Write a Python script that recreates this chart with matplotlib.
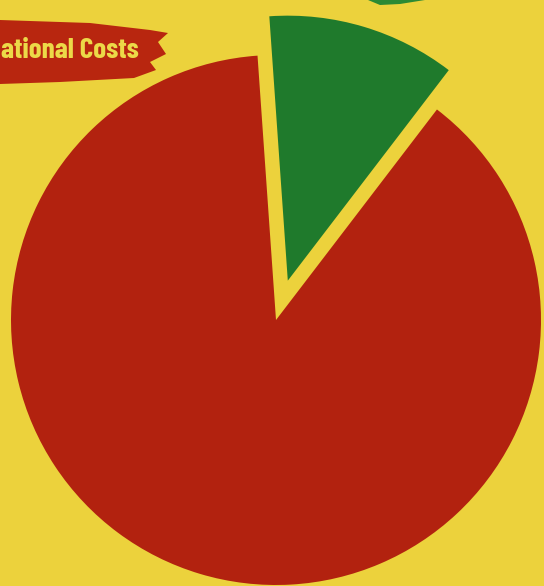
import matplotlib.pyplot as plt
from matplotlib.patches import Polygon

# slice shares (green exploded, red remainder)
labels = ['Other', 'Operational Costs']
shares = [11.5, 88.5]
colors = ['#1f7a2c', '#b2220f']
explode = [0.155, 0]

title_text = 'ational Costs'

bg = '#ecd23c'
W, H = 544, 586

fig = plt.figure(figsize=(W / 100, H / 100), dpi=100, facecolor=bg)
ax = fig.add_axes([0, 0, 1, 1])
ax.set_facecolor(bg)

ax.pie(shares, colors=colors, explode=explode, startangle=94,
       counterclock=False, radius=1.0, wedgeprops=dict(linewidth=0))

# pie centre at about (276, 320) px from top-left, radius ~265 px
r_px = 265.0
cx, cy = 276.0, 320.0
ax.set_aspect('auto')
ax.set_xlim(-cx / r_px, (W - cx) / r_px)
ax.set_ylim(-(H - cy) / r_px, cy / r_px)
ax.axis('off')


def px(pts):
    return [(x / W, 1 - y / H) for x, y in pts]


# red brush banner behind the title
banner = [(0, 20), (90, 23), (150, 30), (168, 33), (158, 42), (166, 54),
          (150, 62), (156, 70), (134, 78), (60, 82), (0, 84)]
fig.patches.append(Polygon(px(banner), closed=True, transform=fig.transFigure,
                           facecolor='#b8260f', edgecolor='none'))

# green brush stroke at the top edge
stroke = [(368, 0), (425, 0), (400, 4), (380, 5)]
fig.patches.append(Polygon(px(stroke), closed=True, transform=fig.transFigure,
                           facecolor='#2c8a34', edgecolor='none'))

fig.text(1 / W, 1 - 51 / H, title_text, ha='left', va='center',
         fontsize=21, fontweight='bold', color='#ecd948',
         family=['Barlow Condensed', 'DejaVu Sans'])

fig.savefig('out.png', dpi=100, facecolor=bg)
